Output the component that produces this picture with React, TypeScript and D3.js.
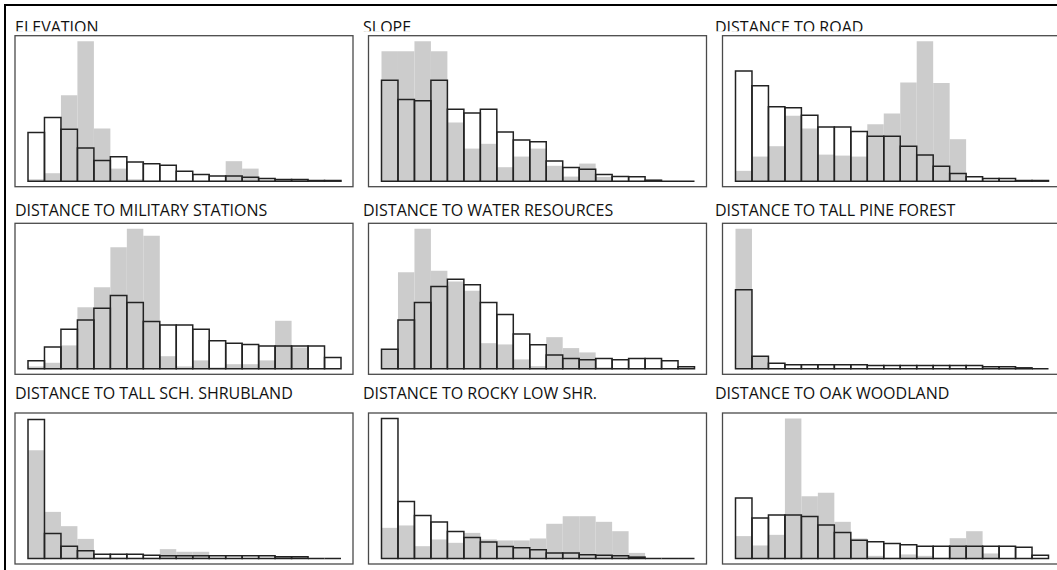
import React from "react";
import * as d3 from "d3";

// Panel titles, row by row
const titles = [
  "ELEVATION",
  "SLOPE",
  "DISTANCE TO ROAD",
  "DISTANCE TO MILITARY STATIONS",
  "DISTANCE TO WATER RESOURCES",
  "DISTANCE TO TALL PINE FOREST",
  "DISTANCE TO TALL SCH. SHRUBLAND",
  "DISTANCE TO ROCKY LOW SHR.",
  "DISTANCE TO OAK WOODLAND",
];

// Relative frequency per bin (19 bins). "Sites" = grey filled bars, "Area" = outlined bars.
const elevationSites = [1.4, 5.7, 61.4, 100, 37.6, 9.0, 1.4, 0.5, 0, 0, 0, 0.5, 14.3, 9.0, 1.0, 0, 0, 0, 0];
const elevationArea = [34.8, 45.5, 37.1, 23.8, 14.8, 17.4, 13.8, 12.4, 11.4, 7.1, 4.8, 3.8, 3.8, 2.9, 1.9, 1.2, 1.2, 0.5, 0.5];

const slopeSites = [92.9, 92.9, 100, 92.9, 41.9, 23.3, 26.7, 10, 17.6, 23.3, 11, 3.3, 12.6, 3.1, 0.5, 0.5, 1.2, 0, 0];
const slopeArea = [72.1, 58.3, 57.4, 72.1, 51.4, 48.8, 51.4, 35.2, 29.5, 28.1, 14.5, 9.8, 8.6, 4.8, 3.3, 3.1, 0.7, 0, 0];

const roadSites = [7.4, 17.6, 25, 46.7, 37.6, 19, 18.3, 17.6, 40.7, 48.3, 70.5, 100, 70.2, 30, 0.5, 0, 0, 0, 0];
const roadArea = [78.8, 68.1, 53.1, 52.4, 47.1, 38.8, 38.8, 35.5, 32.1, 32.1, 25, 18.8, 10.7, 5.5, 3.1, 1.9, 1.9, 0.5, 0.5];

const militarySites = [1.7, 4.3, 16.7, 44, 58.3, 86.9, 100, 95, 9, 1.7, 6, 1, 3.3, 3.3, 6, 34.3, 15.2, 0, 0];
const militaryArea = [5.7, 15.5, 28.3, 34.8, 43.3, 52.4, 47.4, 33.8, 31.2, 31.2, 28.3, 20, 18.3, 17.4, 16.2, 16.2, 16.2, 16.2, 8.1];

const waterSites = [14, 69, 100, 70, 62.4, 55.7, 18.3, 17.4, 6.7, 1.9, 22.6, 14.8, 11.7, 1, 0.5, 0.5, 0.5, 0, 0];
const waterArea = [14, 34.8, 47.4, 58.8, 64, 60, 47.4, 38.8, 24.8, 17.1, 9.8, 7.4, 6.4, 7.4, 6.4, 7.4, 7.4, 5.7, 1.4];

const pineSites = [100, 9, 0.5, 0, 0, 0, 0, 0, 0, 0, 0, 0, 0, 0, 0, 0, 0, 0, 0];
const pineArea = [56.4, 9, 4, 2.9, 2.9, 2.9, 2.9, 2.9, 2.4, 2.4, 2.4, 2.4, 2.4, 2.4, 2.4, 1.4, 1.4, 0.7, 0];

const shrublandSites = [77.4, 33.3, 23.1, 14, 0.7, 0.7, 0.5, 0.5, 6.7, 4.8, 4.8, 0.5, 0, 0, 0, 0, 0, 0, 0];
const shrublandArea = [99.3, 17.9, 8.8, 5.5, 3.1, 3.1, 3.1, 2.4, 1.9, 1.9, 1.9, 1.9, 1.9, 1.9, 1.9, 1.2, 1.2, 0, 0];

const rockySites = [21.9, 23.6, 8.8, 13.6, 11.2, 18.3, 13.6, 12.9, 12.9, 14.3, 24.8, 30.2, 30.2, 26.2, 19.5, 4, 0, 0, 0];
const rockyArea = [100, 40.7, 30.7, 26, 19.3, 15, 11.7, 8.6, 7.6, 6.2, 4, 4, 2.6, 2.4, 1.9, 1, 0, 0, 0];

const oakSites = [16, 9.3, 16.9, 100, 44.5, 46.9, 26.2, 14.3, 1.9, 0.5, 2.9, 1.9, 0.5, 14.5, 19.5, 3.6, 0, 0, 0];
const oakArea = [43.3, 29, 31, 31, 30, 24, 18.6, 13.1, 11.9, 10.7, 9.8, 8.8, 8.8, 8.8, 8.8, 8.8, 8.8, 8.1, 2.4];

const sitesSeries = [elevationSites, slopeSites, roadSites, militarySites, waterSites, pineSites, shrublandSites, rockySites, oakSites];
const areaSeries = [elevationArea, slopeArea, roadArea, militaryArea, waterArea, pineArea, shrublandArea, rockyArea, oakArea];

// Layout
const W = 1057;
const H = 570;
const colX = [15, 368.5, 722.5];
const titleX = [15, 363, 715];
const rowTop = [35.7, 223.3, 413];
const titleY = [32.5, 215.5, 398.5];
const boxW = 338;
const boxH = 151;
const padL = 13;
const plotW = 313;
const baseOffset = 145.5;
const plotH = 140;
const BINS = 19;

function barPath(x0: number, x1: number, y0: number, y1: number) {
  const p = d3.path();
  p.moveTo(x0, y0);
  p.lineTo(x0, y1);
  p.lineTo(x1, y1);
  p.lineTo(x1, y0);
  p.closePath();
  return p.toString();
}

function Panel({ idx }: { idx: number }) {
  const row = Math.floor(idx / 3);
  const col = idx % 3;
  const bx = colX[col];
  const by = rowTop[row];
  const base = by + baseOffset;
  const x = d3.scaleLinear().domain([0, BINS]).range([bx + padL, bx + padL + plotW]);
  const y = d3.scaleLinear().domain([0, 100]).range([base, base - plotH]);
  const sites = sitesSeries[idx];
  const area = areaSeries[idx];
  return (
    <g>
      <text
        x={titleX[col]}
        y={titleY[row]}
        fontFamily="'Open Sans', 'Noto Sans', sans-serif"
        fontSize={16}
        fill="#111"
        clipPath={row === 0 ? "url(#topClip)" : undefined}
      >
        {titles[idx]}
      </text>
      <rect x={bx} y={by} width={boxW} height={boxH} fill="#fff" stroke="#4a4a4a" strokeWidth={1.3} />
      {area.map((v, i) => (
        <path key={"w" + i} d={barPath(x(i), x(i + 1), base, y(v))} fill="#fff" stroke="none" />
      ))}
      {sites.map((v, i) =>
        v > 0 ? (
          <path key={"g" + i} d={barPath(x(i), x(i + 1), base, y(v))} fill="#cccccc" stroke="none" />
        ) : null
      )}
      {area.map((v, i) => (
        <path
          key={"o" + i}
          d={barPath(x(i), x(i + 1), base, y(v))}
          fill="none"
          stroke="#222"
          strokeWidth={1.5}
        />
      ))}
    </g>
  );
}

export default function App() {
  return (
    <svg width={W} height={H} style={{ position: "absolute", left: 0, top: 0, background: "#fff" }}>
      <defs>
        <clipPath id="topClip">
          <rect x={0} y={0} width={W} height={31.3} />
        </clipPath>
      </defs>
      <rect x={0} y={0} width={W} height={H} fill="#fff" />
      <rect x={5} y={5} width={W + 40} height={H + 40} fill="none" stroke="#000" strokeWidth={2} />
      {titles.map((_, i) => (
        <Panel key={i} idx={i} />
      ))}
    </svg>
  );
}
